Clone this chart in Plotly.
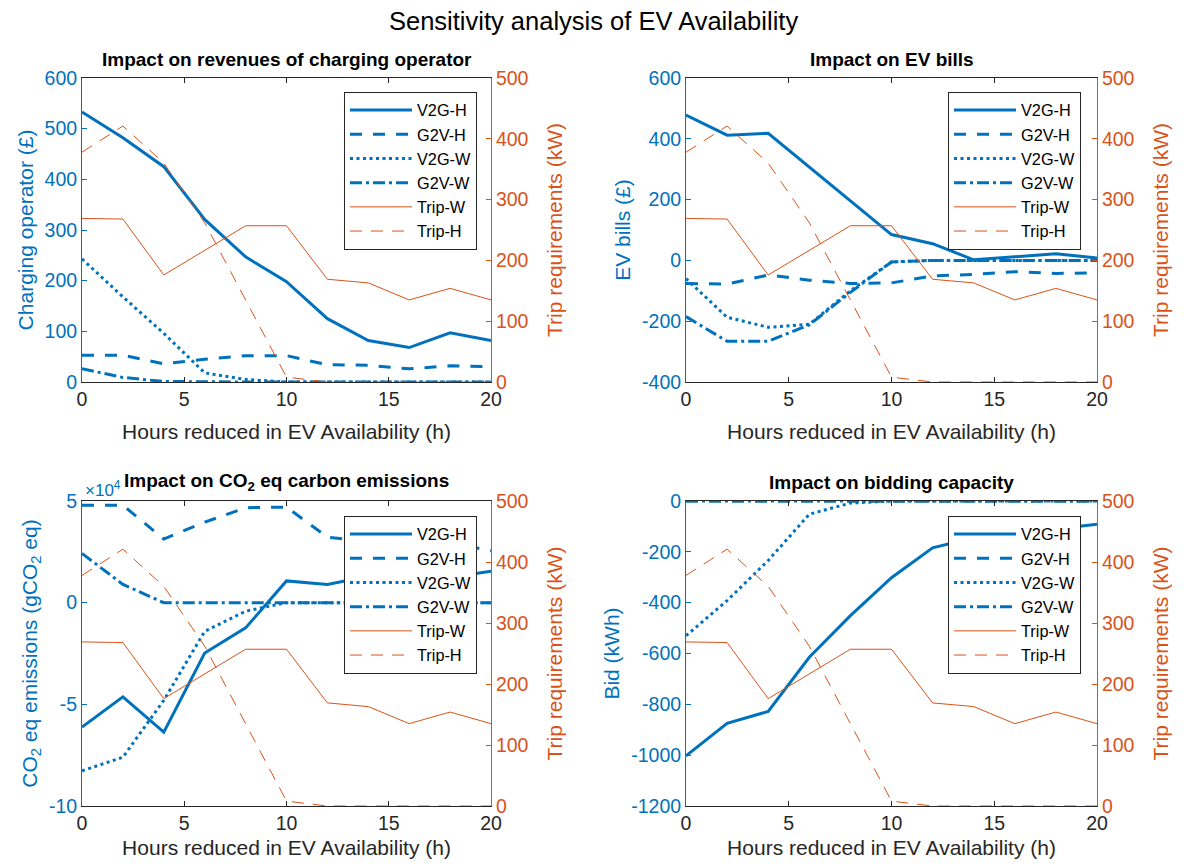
import plotly.graph_objects as go

# ---------------- data ----------------
hours = [0, 2, 4, 6, 8, 10, 12, 14, 16, 18, 20]

trip_w = [269, 268, 176, 216, 257, 257, 169, 163, 135, 154, 135]
trip_h = [378, 421, 360, 262, 135, 8, 0, 0, 0, 0, 0]

rev_v2g_h = [533, 482, 425, 321, 247, 198, 125, 82, 68, 97, 82]
rev_g2v_h = [53, 53, 36, 45, 52, 52, 34, 33, 26, 32, 30]
rev_v2g_w = [243, 168, 96, 18, 5, 0, 0, 0, 0, 0, 0]
rev_g2v_w = [26, 9, 1, 0, 0, 0, 0, 0, 0, 0, 0]

bill_v2g_h = [478, 412, 418, 308, 197, 85, 55, 2, 12, 22, 8]
bill_g2v_h = [-76, -78, -48, -65, -76, -74, -51, -46, -37, -43, -41]
bill_v2g_w = [-60, -187, -220, -210, -100, -5, 0, 0, 0, 0, 0]
bill_g2v_w = [-185, -266, -266, -212, -105, -5, 0, 0, 0, 0, 0]

co2_v2g_h = [-61200, -46300, -63700, -24800, -12400, 10700, 9000, 13000, 12000, 12500, 15500]
co2_g2v_h = [47900, 47900, 31300, 39600, 46700, 47000, 32200, 30000, 29500, 29500, 25500]
co2_v2g_w = [-82700, -76000, -48000, -14100, -4200, 0, 0, 0, 0, 0, 0]
co2_g2v_w = [24200, 9000, 0, 0, 0, 0, 0, 0, 0, 0, 0]

bid_v2g_h = [-1003, -875, -828, -615, -451, -302, -184, -145, -125, -110, -91]
bid_g2v_h = [0, 0, 0, 0, 0, 0, 0, 0, 0, 0, 0]
bid_v2g_w = [-530, -392, -234, -52, -8, 0, 0, 0, 0, 0, 0]
bid_g2v_w = [0, 0, 0, 0, 0, 0, 0, 0, 0, 0, 0]

x_ticks = [0, 5, 10, 15, 20]
right_ticks = [0, 100, 200, 300, 400, 500]
rev_ticks = [0, 100, 200, 300, 400, 500, 600]
bill_ticks = [-400, -200, 0, 200, 400, 600]
co2_ticks = [-100000, -50000, 0, 50000]
co2_ticktext = ["-10", "-5", "0", "5"]
bid_ticks = [-1200, -1000, -800, -600, -400, -200, 0]

titles = ["Impact on revenues of charging operator", "Impact on EV bills",
          "Impact on CO<sub>2</sub> eq carbon emissions", "Impact on bidding capacity"]
left_labels = ["Charging operator (£)", "EV bills (£)",
               "CO<sub>2</sub> eq emissions (gCO<sub>2</sub> eq)", "Bid (kWh)"]
series_names = ["V2G-H", "G2V-H", "V2G-W", "G2V-W", "Trip-W", "Trip-H"]

# ---------------- style ----------------
BLUE = "#0072BD"
ORANGE = "#D95319"
DARK = "#262626"
FONT = "Liberation Sans, Arial, Helvetica, sans-serif"
OFF = 8                      # page body margin in the browser
W, H = 1187 - 2 * OFF, 867 - 2 * OFF
TICK_SIZE = 19.5
LABEL_SIZE = 21

def px_x(p):
    return (p - OFF) / W

def px_y(p):
    return 1 - (p - OFF) / H

panels = [
    dict(series=[rev_v2g_h, rev_g2v_h, rev_v2g_w, rev_g2v_w], lrange=[0, 600],
         lticks=rev_ticks, ltext=[str(v) for v in rev_ticks], xd=(82, 491), yd=(78, 382)),
    dict(series=[bill_v2g_h, bill_g2v_h, bill_v2g_w, bill_g2v_w], lrange=[-400, 600],
         lticks=bill_ticks, ltext=[str(v) for v in bill_ticks], xd=(686, 1097), yd=(78, 382)),
    dict(series=[co2_v2g_h, co2_g2v_h, co2_v2g_w, co2_g2v_w], lrange=[-100000, 50000],
         lticks=co2_ticks, ltext=co2_ticktext, xd=(82, 491), yd=(501, 806)),
    dict(series=[bid_v2g_h, bid_g2v_h, bid_v2g_w, bid_g2v_w], lrange=[-1200, 0],
         lticks=bid_ticks, ltext=[str(v) for v in bid_ticks], xd=(686, 1097), yd=(501, 806)),
]

blue_dash = ["solid", "12px,11px", "3px,3.5px", "12px,4px,3px,4px"]

fig = go.Figure()
layout = dict(
    template="none",
    width=W, height=H, autosize=False,
    margin=dict(l=0, r=0, t=0, b=0, pad=0),
    paper_bgcolor="white", plot_bgcolor="white",
    font=dict(family=FONT, size=16, color=DARK),
    showlegend=True,
)
annotations = []

for i, p in enumerate(panels):
    k = i + 1
    xname = "x" if k == 1 else f"x{k}"
    yl = 2 * i + 1
    yr = 2 * i + 2
    ylname = "y" if yl == 1 else f"y{yl}"
    yrname = f"y{yr}"
    legname = "legend" if k == 1 else f"legend{k}"

    for j in range(4):
        fig.add_trace(go.Scatter(
            x=hours, y=p["series"][j], name=series_names[j], mode="lines",
            line=dict(color=BLUE, width=3, dash=blue_dash[j]),
            xaxis=xname, yaxis=ylname, legend=legname, showlegend=True))
    fig.add_trace(go.Scatter(
        x=hours, y=trip_w, name="Trip-W", mode="lines",
        line=dict(color=ORANGE, width=1), xaxis=xname, yaxis=yrname, legend=legname))
    fig.add_trace(go.Scatter(
        x=hours, y=trip_h, name="Trip-H", mode="lines",
        line=dict(color=ORANGE, width=1, dash="12px,9px"), xaxis=xname, yaxis=yrname,
        legend=legname))

    xd = [px_x(p["xd"][0]), px_x(p["xd"][1])]
    yd = [px_y(p["yd"][1]), px_y(p["yd"][0])]

    layout["xaxis" if k == 1 else f"xaxis{k}"] = dict(
        domain=xd, anchor=ylname, range=[0, 20], tickvals=x_ticks,
        ticks="inside", ticklen=5, tickcolor=DARK, showline=True, linecolor=DARK,
        linewidth=1, mirror="ticks", showgrid=False, zeroline=False, automargin=False,
        tickfont=dict(size=TICK_SIZE, color=DARK, family=FONT),
        title=dict(text="Hours reduced in EV Availability (h)",
                   font=dict(size=LABEL_SIZE, color=DARK, family=FONT), standoff=14),
    )
    layout["yaxis" if yl == 1 else f"yaxis{yl}"] = dict(
        domain=yd, anchor=xname, range=p["lrange"], tickvals=p["lticks"],
        ticktext=p["ltext"], ticks="inside", ticklen=5, tickcolor=BLUE,
        showline=True, linecolor=BLUE, linewidth=1, showgrid=False, zeroline=False,
        automargin=False, side="left",
        tickfont=dict(size=TICK_SIZE, color=BLUE, family=FONT),
        title=dict(text=left_labels[i], font=dict(size=LABEL_SIZE, color=BLUE, family=FONT),
                   standoff=5),
    )
    layout[f"yaxis{yr}"] = dict(
        domain=yd, anchor=xname, overlaying=ylname, side="right", range=[0, 500],
        tickvals=right_ticks, ticks="inside", ticklen=5, tickcolor=ORANGE,
        showline=True, linecolor=ORANGE, linewidth=1, showgrid=False, zeroline=False,
        automargin=False,
        tickfont=dict(size=TICK_SIZE, color=ORANGE, family=FONT),
        title=dict(text="Trip requirements (kW)",
                   font=dict(size=LABEL_SIZE, color=ORANGE, family=FONT), standoff=19),
    )
    leg_right = 477 if k in (1, 3) else 1081
    leg_top = 92 if k in (1, 2) else 516
    layout[legname] = dict(
        x=px_x(leg_right), y=px_y(leg_top), xanchor="right", yanchor="top",
        xref="paper", yref="paper",
        bgcolor="white", bordercolor=DARK, borderwidth=1,
        font=dict(size=16.3, color="black", family=FONT),
        itemwidth=62, tracegroupgap=0,
    )
    annotations.append(dict(
        text=f"<b>{titles[i]}</b>", xref="paper", yref="paper",
        x=(xd[0] + xd[1]) / 2, y=px_y(60 if k in (1, 2) else 482),
        xanchor="center", yanchor="middle", showarrow=False,
        font=dict(size=19, color="black", family=FONT)))

annotations.append(dict(
    text="×10<sup>4</sup>", xref="paper", yref="paper", x=px_x(83), y=px_y(489),
    xanchor="left", yanchor="middle", showarrow=False,
    font=dict(size=17, color=BLUE, family=FONT)))
annotations.append(dict(
    text="Sensitivity analysis of EV Availability", xref="paper", yref="paper",
    x=px_x(593.5), y=px_y(21), xanchor="center", yanchor="middle", showarrow=False,
    font=dict(size=25.5, color="black", family=FONT)))

layout["annotations"] = annotations
fig.update_layout(**layout)
fig.write_html("out.html")
